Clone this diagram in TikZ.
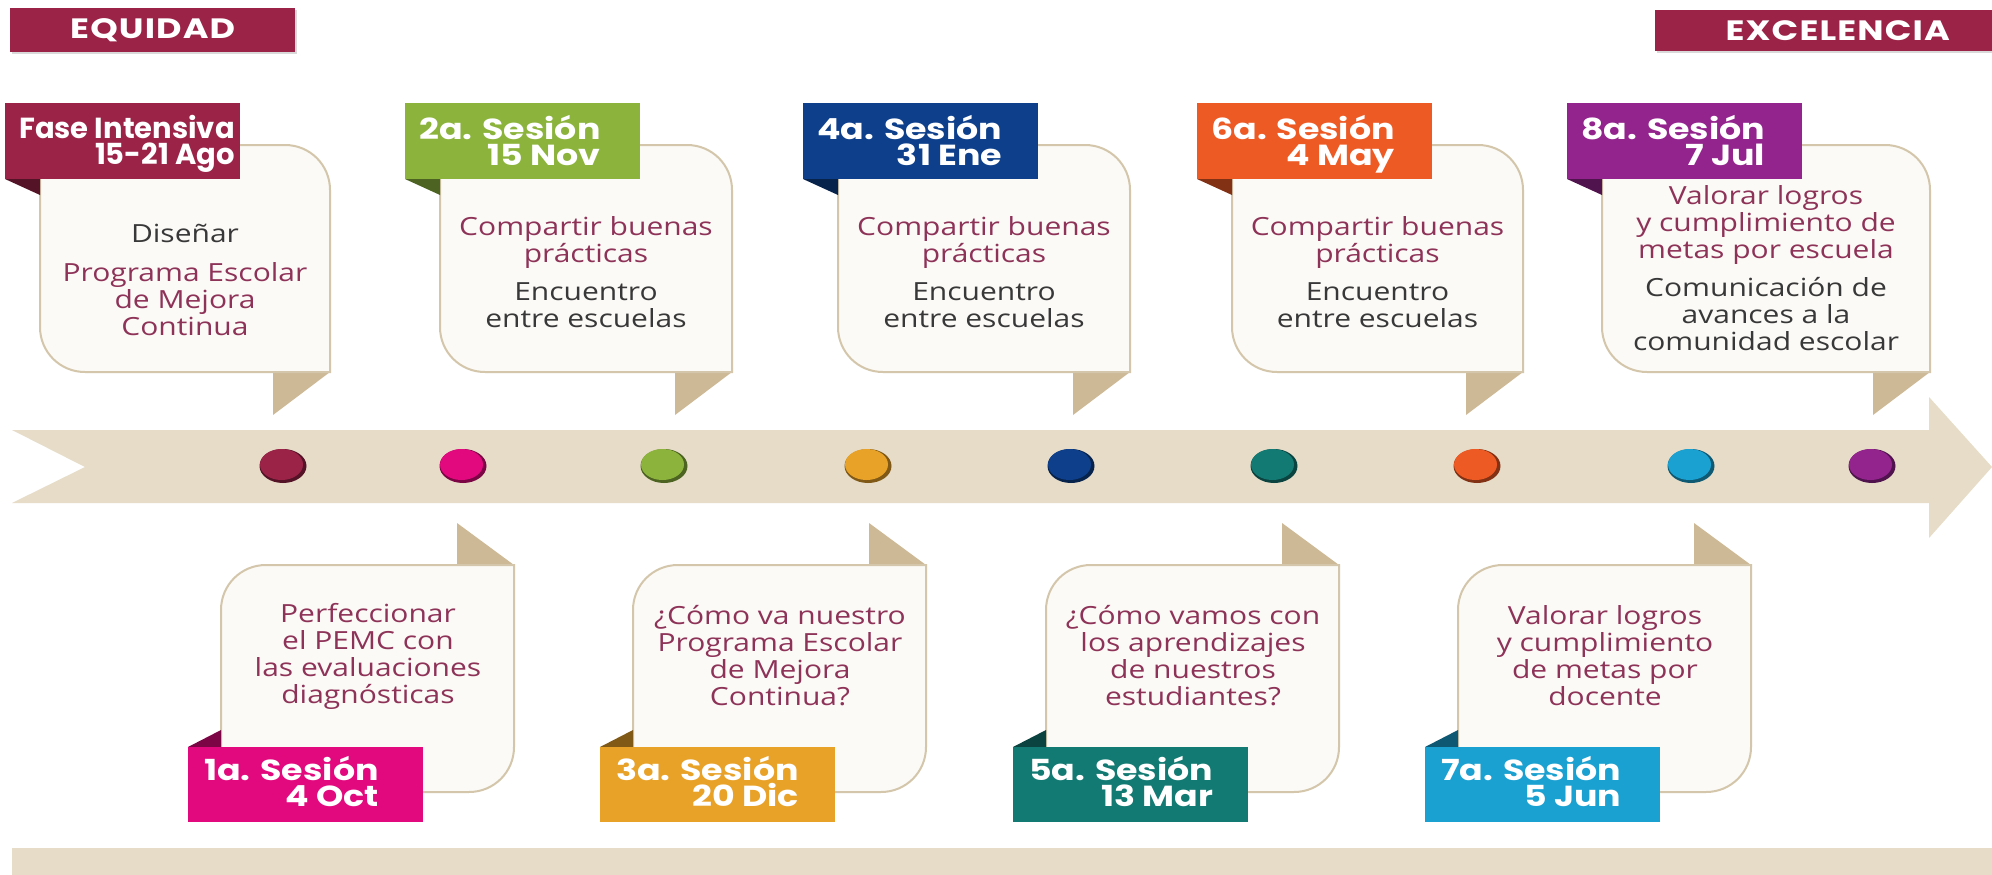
\documentclass[tikz,border=0pt]{standalone}
\usepackage{fontspec}
\setmainfont{Open Sans}
\newfontfamily\cardfont{Open Sans}[FakeStretch=1.2]
\newfontfamily\tagfont{Poppins}[FakeStretch=1.2]
\newfontfamily\fasefont{Poppins}
\newfontfamily\headfont{Poppins}[FakeStretch=1.25,LetterSpace=4]
\usetikzlibrary{shapes.geometric,positioning}

\definecolor{guinda}{HTML}{9B2348}
\definecolor{rosa}{HTML}{E2097E}
\definecolor{verde}{HTML}{8CB43C}
\definecolor{ambar}{HTML}{E9A228}
\definecolor{marino}{HTML}{0D3F8B}
\definecolor{petroleo}{HTML}{127A72}
\definecolor{naranja}{HTML}{EE5A24}
\definecolor{cian}{HTML}{1BA1D1}
\definecolor{morado}{HTML}{93238D}
\definecolor{arena}{HTML}{E6DCC8}
\definecolor{dorado}{HTML}{CDB996}
\definecolor{borde}{HTML}{D3C6AA}
\definecolor{crema}{HTML}{FCFAF7}
\definecolor{vino}{HTML}{8E3358}
\definecolor{grafito}{HTML}{383838}
\newcommand\tv[1]{\textcolor{vino}{#1}}

\tikzset{
  head/.style={fill=guinda, text=white, font=\headfont\bfseries\fontsize{28}{28}\selectfont, inner sep=0pt, anchor=north west},
  tagbox/.style={minimum width=235pt, minimum height=76pt, inner sep=0pt, anchor=north west},
  tagtext/.style={text=white, font=\tagfont\bfseries\fontsize{29}{26}\selectfont, align=right, inner sep=0pt, anchor=west,
    execute at begin node=\vphantom{Ó}, execute at end node=\vphantom{y}},
  cardbody/.style={fill=crema, draw=borde, line width=2pt},
  tail/.style={fill=dorado},
  cardtext/.style={text=grafito, font=\cardfont\fontsize{25}{27}\selectfont, align=center, inner sep=0pt},
  dot/.style={ellipse, minimum width=47pt, minimum height=34pt, inner sep=0pt},
}

\begin{document}
\begin{tikzpicture}[x=1pt,y=-1pt]
\useasboundingbox (0,0) rectangle (1992,875);
\fill[white] (0,0) rectangle (1992,875);

% encabezados
\fill[gray!30] (12,10) rectangle (297,54);
\node[head, minimum width=285pt, minimum height=44pt] (equidad) at (10,8) {EQUIDAD};
\fill[gray!30] (1657,12) rectangle (1992,53);
\node[head, minimum width=365pt, minimum height=41pt] (excelencia) at (1655,10) {EXCELENCIA};

% linea de tiempo
\fill[arena] (12,430) -- (1929,430) -- (1929,397) -- (1992,467) -- (1929,538) -- (1929,503) -- (12,503) -- (85,467) -- cycle;
\fill[arena] (12,848) rectangle (1992,875);

\foreach \i/\xc/\col in {1/283/guinda, 2/463/rosa, 3/664/verde, 4/868/ambar, 5/1071/marino, 6/1274/petroleo, 7/1477/naranja, 8/1691/cian, 9/1872/morado}{
  \node[dot, fill=\col!55!black] (dot\i) at (\xc,466) {};
  \fill[\col] ([shift={(-1.5,-1.5)}]dot\i.center) ellipse (21.5pt and 15.5pt);
}

% sesiones de arriba
\foreach \i/\xl/\xr/\col/\lab in {1/5/330/guinda/{{\fasefont\bfseries Fase Intensiva}\\{\fasefont\bfseries 15-21 Ago}}, 2/405/732/verde/{2a. Sesión\\15 Nov}, 3/803/1130/marino/{4a. Sesión\\31 Ene}, 4/1197/1523/naranja/{6a. Sesión\\4 May}, 5/1567/1930/morado/{8a. Sesión\\7 Jul}}{
  \fill[tail] (\xr-57,372) -- (\xr,372) -- (\xr-57,415) -- cycle;
  \draw[cardbody] (\xl+35,145) -- (\xr-45,145) .. controls (\xr-20,145) and (\xr,165) .. (\xr,190) -- (\xr,372) -- (\xl+80,372) .. controls (\xl+55,372) and (\xl+35,352) .. (\xl+35,327) -- cycle;
  \fill[\col!55!black] (\xl,179) -- (\xl+35,179) -- (\xl+35,195) -- cycle;
  \node[tagbox, fill=\col] (toptag\i) at (\xl,103) {};
  \node[tagtext, right=14pt of toptag\i.west, yshift=-3pt] (toplabel\i) {\lab};
  \coordinate (topcard\i) at ({(\xl+35+\xr)/2},272);
}

% sesiones de abajo
\foreach \i/\xl/\col/\lab in {1/188/rosa/{1a. Sesión\\4 Oct}, 2/600/ambar/{3a. Sesión\\20 Dic}, 3/1013/petroleo/{5a. Sesión\\13 Mar}, 4/1425/cian/{7a. Sesión\\5 Jun}}{
  \fill[tail] (\xl+269,565) -- (\xl+326,565) -- (\xl+269,523) -- cycle;
  \draw[cardbody] (\xl+33,610) -- (\xl+33,792) -- (\xl+281,792) .. controls (\xl+306,792) and (\xl+326,772) .. (\xl+326,747) -- (\xl+326,565) -- (\xl+78,565) .. controls (\xl+53,565) and (\xl+33,585) .. (\xl+33,610) -- cycle;
  \fill[\col!55!black] (\xl,747) -- (\xl+33,747) -- (\xl+33,730) -- cycle;
  \node[tagbox, fill=\col, minimum height=75pt] (bottag\i) at (\xl,747) {};
  \node[tagtext, right=16pt of bottag\i.west, yshift=-1pt] (botlabel\i) {\lab};
  \coordinate (botcard\i) at (\xl+180,656);
}

% textos
\node[cardtext] (text1) at ([yshift=-8pt]topcard1) {Diseñar\\[12pt]\tv{Programa Escolar}\\\tv{de Mejora}\\\tv{Continua}};
\node[cardtext] (text2) at (topcard2) {\tv{Compartir buenas}\\\tv{prácticas}\\[11pt]Encuentro\\entre escuelas};
\node[cardtext] (text4) at (topcard3) {\tv{Compartir buenas}\\\tv{prácticas}\\[11pt]Encuentro\\entre escuelas};
\node[cardtext] (text6) at (topcard4) {\tv{Compartir buenas}\\\tv{prácticas}\\[11pt]Encuentro\\entre escuelas};
\node[cardtext] (text8) at ([yshift=4pt]topcard5) {\tv{Valorar logros}\\\tv{y cumplimiento de}\\\tv{metas por escuela}\\[11pt]Comunicación de\\avances a la\\comunidad escolar};
\node[cardtext, text=vino] (text3) at (botcard1) {Perfeccionar\\el PEMC con\\las evaluaciones\\diagnósticas};
\node[cardtext, text=vino] (text5) at (botcard2) {¿Cómo va nuestro\\Programa Escolar\\de Mejora\\Continua?};
\node[cardtext, text=vino] (text7) at (botcard3) {¿Cómo vamos con\\los aprendizajes\\de nuestros\\estudiantes?};
\node[cardtext, text=vino] (text9) at (botcard4) {Valorar logros\\y cumplimiento\\de metas por\\docente};
\end{tikzpicture}
\end{document}
